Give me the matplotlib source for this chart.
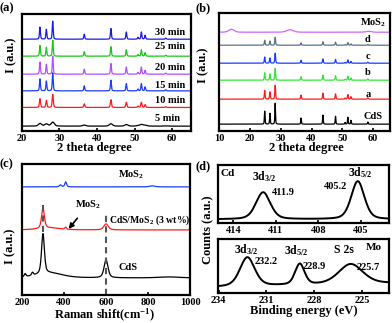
import numpy as np
import matplotlib
matplotlib.use('Agg')
import matplotlib.pyplot as plt

plt.rcParams['font.family'] = ['Liberation Serif', 'DejaVu Serif']
plt.rcParams['font.weight'] = 'bold'
plt.rcParams['mathtext.fontset'] = 'custom'
plt.rcParams['mathtext.rm'] = 'Liberation Serif:bold'
plt.rcParams['mathtext.it'] = 'Liberation Serif:bold'
plt.rcParams['mathtext.bf'] = 'Liberation Serif:bold'
plt.rcParams['mathtext.default'] = 'rm'
plt.rcParams['axes.linewidth'] = 1.6

# ---- (a) XRD vs reaction time ----
cds_pos = [24.8, 26.5, 28.2, 36.6, 43.7, 47.8, 50.9, 51.8, 52.8, 58.3]
cds_rel = [0.67, 0.55, 1.0, 0.28, 0.60, 0.40, 0.10, 0.40, 0.22, 0.06]
time_labels = ['5 min', '10 min', '15 min', '20 min', '25 min', '30 min']
time_colors = ['black', '#ff1a1a', '#1a3cff', '#b44cff', '#16c816', '#1a1ae6']
time_offsets = [5, 23.7, 40.3, 57, 75, 92]
time_scale = [4, 13, 18, 18, 16, 18]
time_width = [1.0, 0.35, 0.3, 0.3, 0.3, 0.3]
time_text_y = [13, 31, 46, 64, 85, 99]

# ---- (b) XRD of composites ----
b_labels = ['CdS', 'a', 'b', 'c', 'd']
b_colors = ['black', '#ff1a1a', '#33e633', '#1a3cff', '#5f7080']
b_offsets = [7, 32, 51, 68, 86]
b_scale = [21, 14, 12, 10, 8]
b_text_y = [15, 37, 59, 75, 92]
cds_b_rel = [0.62, 0.52, 1.0, 0.29, 0.43, 0.38, 0.08, 0.33, 0.18, 0.1]
mos2_pos = [14.0, 33.0, 58.5]
mos2_h = [3.0, 2.5, 1.0]
mos2_w = [2.0, 2.5, 2.0]
mos2_offset = 99

# ---- (c) Raman ----
ram_mos2_pos = [383, 408, 820]
ram_mos2_h = [2, 5, 1]
ram_mos2_w = [12, 10, 30]
ram_mix_pos = [300, 408, 600, 330]
ram_mix_h = [20, 2, 6, 2]
ram_mix_w = [16, 10, 25, 120]
ram_cds_pos = [215, 250, 300, 600, 330, 900]
ram_cds_h = [3, 3, 40, 18, 5, 1]
ram_cds_w = [10, 10, 16, 22, 150, 120]
ram_base = [108, 65, 17]

# ---- (d) XPS ----
cd_pos = [411.9, 405.2]
cd_h = [27, 38]
cd_w = [1.2, 1.1]
mo_pos = [232.2, 228.9, 225.7]
mo_h = [29, 21, 20]
mo_w = [1.1, 0.7, 1.8]


def profile(x, pos, h, w, eta=0.5):
    y = np.zeros_like(x)
    for p, a, fw in zip(pos, h, w):
        g = np.exp(-4 * np.log(2) * ((x - p) / fw) ** 2)
        l = 1.0 / (1 + 4 * ((x - p) / fw) ** 2)
        y += a * (eta * l + (1 - eta) * g)
    return y


def style(ax):
    ax.tick_params(direction='in', length=2.5, width=1.2, labelsize=7.5, pad=2,
                   left=False, labelleft=False)
    for lab in ax.get_xticklabels():
        lab.set_fontweight('bold')


fig = plt.figure(figsize=(3.92, 3.23), dpi=100)

# (a)
ax = fig.add_axes([0.056, 0.594, 0.431, 0.362])
x = np.linspace(20, 65, 1500)
for i in range(len(time_labels)):
    y = time_offsets[i] + profile(x, cds_pos, np.array(cds_rel) * time_scale[i],
                                  [time_width[i]] * len(cds_pos), 0.4)
    ax.plot(x, y, color=time_colors[i], lw=0.9)
    ax.text(55.5, time_text_y[i], time_labels[i], fontsize=7.5, va='center')
ax.set_xlim(20, 65)
ax.set_ylim(0, 117)
ax.set_xticks([20, 30, 40, 50, 60])
style(ax)
ax.set_xlabel('2 theta degree', fontsize=9, fontweight='bold')
ax.xaxis.set_label_coords(0.43, -0.095)
ax.set_ylabel('I (a.u.)', fontsize=9, fontweight='bold')
ax.yaxis.set_label_coords(-0.025, 0.65)
fig.text(0.0, 0.975, '(a)', fontsize=9, va='center')

# (b)
ax = fig.add_axes([0.559, 0.594, 0.436, 0.365])
x = np.linspace(10, 65, 1800)
for i in range(len(b_labels)):
    w = 0.25 if i == 0 else 0.3
    y = b_offsets[i] + profile(x, cds_pos, np.array(cds_b_rel) * b_scale[i],
                               [w] * len(cds_pos), 0.4)
    ax.plot(x, y, color=b_colors[i], lw=0.9)
    ax.text(60 if i == 0 else 58.3, b_text_y[i], b_labels[i], fontsize=7.5,
            ha='center', va='center')
y = mos2_offset + profile(x, mos2_pos, mos2_h, mos2_w, 0.3)
ax.plot(x, y, color='#cc66ff', lw=0.9)
ax.text(64.2, 108, r'MoS$_2$', fontsize=7.5, ha='right', va='center')
ax.set_xlim(10, 65.5)
ax.set_ylim(0, 118)
ax.set_xticks([10, 20, 30, 40, 50, 60])
style(ax)
ax.set_xlabel('2 theta degree', fontsize=9, fontweight='bold')
ax.xaxis.set_label_coords(0.51, -0.095)
ax.set_ylabel('I (a.u.)', fontsize=9, fontweight='bold')
ax.yaxis.set_label_coords(-0.06, 0.56)
fig.text(0.5, 0.975, '(b)', fontsize=9, va='center')

# (c)
ax = fig.add_axes([0.056, 0.0867, 0.429, 0.406])
x = np.linspace(200, 1000, 1600)
ax.plot(x, ram_base[0] + profile(x, ram_mos2_pos, ram_mos2_h, ram_mos2_w), color='#1a3cff', lw=0.9)
ax.plot(x, ram_base[1] + profile(x, ram_mix_pos, ram_mix_h, ram_mix_w), color='#ff1a1a', lw=0.9)
ax.plot(x, ram_base[2] + profile(x, ram_cds_pos, ram_cds_h, ram_cds_w), color='black', lw=0.9)
ax.vlines(300, 63, 94, colors='#555555', linestyles=(0, (3, 2)), lw=1.5)
ax.vlines(600, 0, 83, colors='#555555', linestyles=(0, (3, 2)), lw=1.5)
ax.text(720, 120, r'MoS$_2$', fontsize=7.5, ha='center', va='center')
ax.text(615, 75, r'CdS/MoS$_2$ (3 wt%)', fontsize=7, ha='left', va='center')
ax.text(705, 27, 'CdS', fontsize=7.5, ha='center', va='center')
ax.annotate(r'MoS$_2$', xy=(422, 66), xytext=(515, 90), fontsize=7.5,
            ha='center', va='center',
            arrowprops=dict(arrowstyle='-|>', color='black', lw=1.2, shrinkA=4, shrinkB=0))
ax.set_xlim(200, 1000)
ax.set_ylim(0, 131)
ax.set_xticks([200, 400, 600, 800, 1000])
style(ax)
ax.set_xlabel(r'Raman shift(cm$^{-1}$)', fontsize=9, fontweight='bold')
ax.xaxis.set_label_coords(0.49, -0.095)
ax.set_ylabel('I (a.u.)', fontsize=9, fontweight='bold')
ax.yaxis.set_label_coords(-0.035, 0.37)
fig.text(0.0, 0.49, '(c)', fontsize=9, va='center')

# (d) top: Cd 3d
ax = fig.add_axes([0.556, 0.310, 0.436, 0.180])
x = np.linspace(403, 415.2, 800)
ax.plot(x, 3.5 + profile(x, cd_pos, cd_h, cd_w, 0.35), color='black', lw=1.4)
ax.set_xlim(415.1, 403.0)
ax.set_ylim(0, 58)
ax.set_xticks([414, 411, 408, 405])
style(ax)
ax.text(414.4, 49, 'Cd', fontsize=8, ha='center', va='center')
ax.text(411.8, 46, r'3d$_{3/2}$', fontsize=8.5, ha='center', va='center')
ax.text(410.5, 30, '411.9', fontsize=7.5, ha='center', va='center')
ax.text(405.0, 50, r'3d$_{5/2}$', fontsize=8.5, ha='center', va='center')
ax.text(406.8, 36, '405.2', fontsize=7.5, ha='center', va='center')
fig.text(0.5, 0.485, '(d)', fontsize=9, va='center')

# (d) bottom: Mo 3d / S 2s
ax = fig.add_axes([0.556, 0.093, 0.436, 0.167])
x = np.linspace(223, 234.2, 800)
base = 6 + (234 - x) * 0.35
ax.plot(x, base + profile(x, mo_pos, mo_h, mo_w, 0.35), color='black', lw=1.4)
ax.set_xlim(234.05, 223.3)
ax.set_ylim(0, 54)
ax.set_xticks([234, 231, 228, 225])
style(ax)
ax.text(232.25, 43, r'3d$_{3/2}$', fontsize=8.5, ha='center', va='center')
ax.text(231.0, 31, '232.2', fontsize=7.5, ha='center', va='center')
ax.text(229.1, 42, r'3d$_{5/2}$', fontsize=8.5, ha='center', va='center')
ax.text(228.0, 26, '228.9', fontsize=7.5, ha='center', va='center')
ax.text(226.1, 43, 'S 2s', fontsize=8.5, ha='center', va='center')
ax.text(224.6, 25, '225.7', fontsize=7.5, ha='center', va='center')
ax.text(224.25, 46, 'Mo', fontsize=8, ha='center', va='center')
ax.set_xlabel('Binding energy (eV)', fontsize=9, fontweight='bold', labelpad=0)
fig.text(0.532, 0.29, 'Counts (a.u.)', fontsize=9, rotation=90, ha='center', va='center')

fig.savefig('out.png', dpi=100)
